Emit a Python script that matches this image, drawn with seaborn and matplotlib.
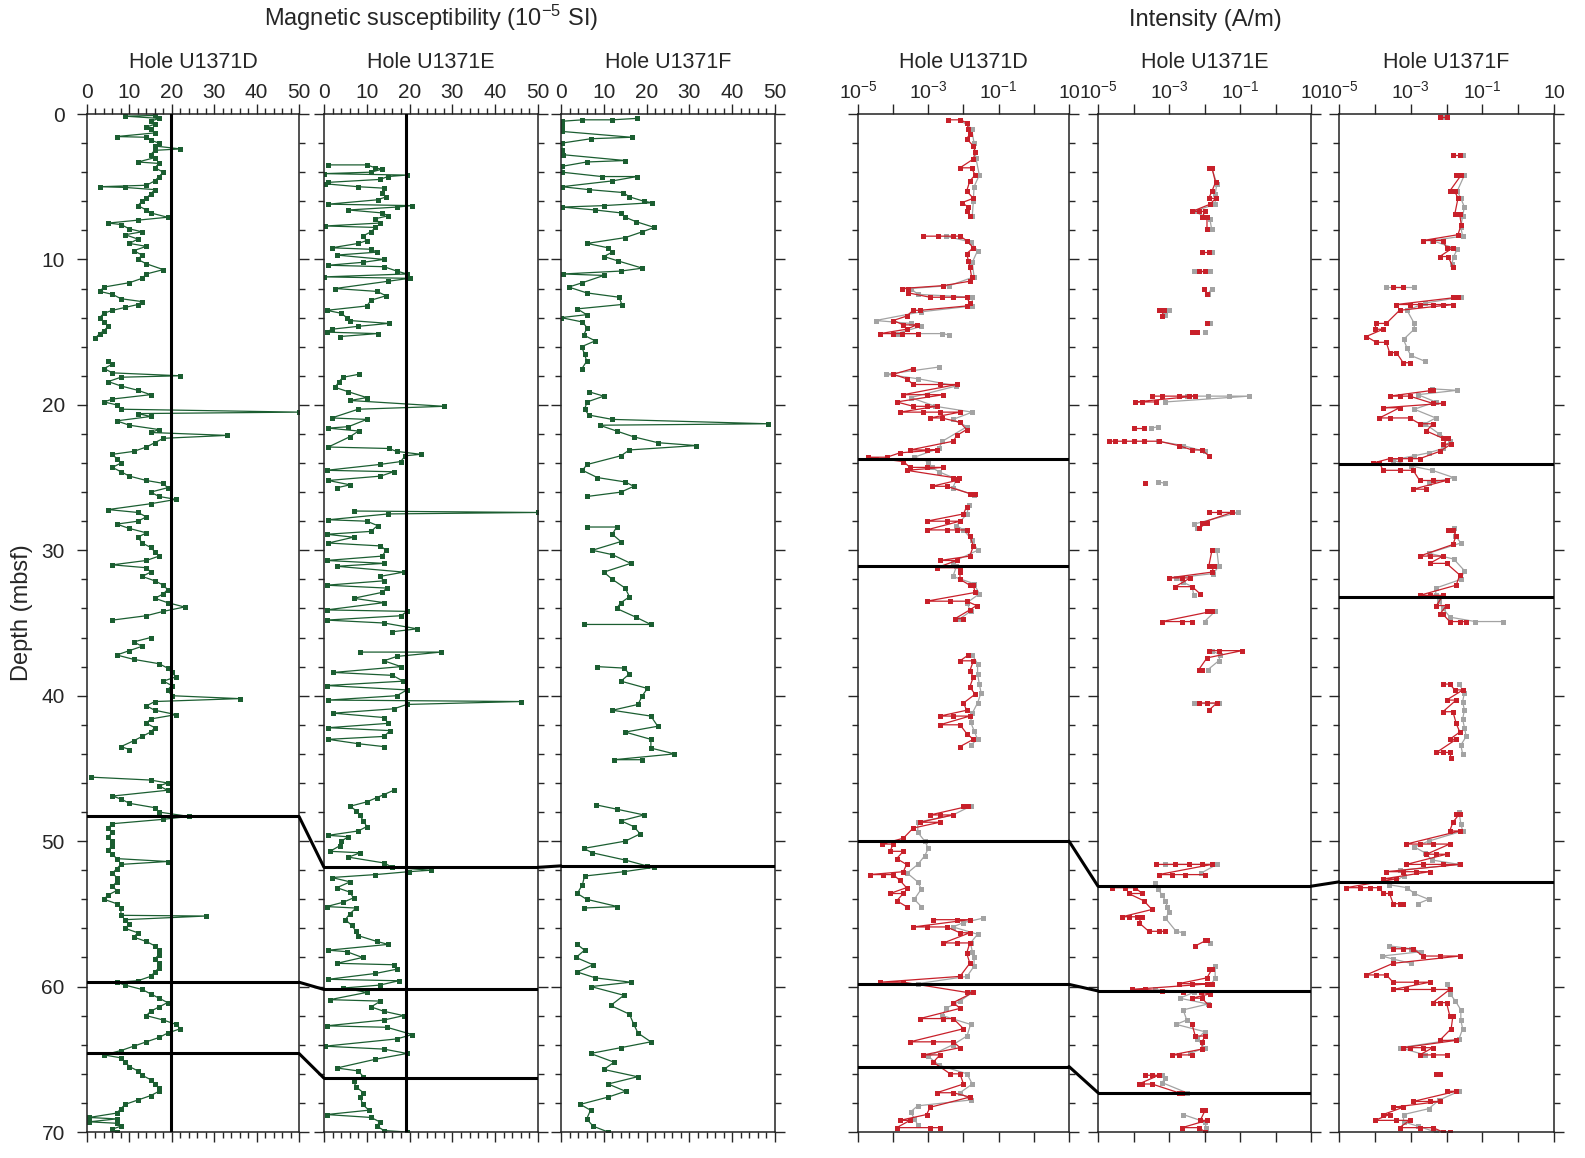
import numpy as np
import pandas as pd
import matplotlib
matplotlib.use("Agg")
import matplotlib.pyplot as plt
import matplotlib.transforms as mtransforms
import seaborn as sns
from matplotlib.patches import ConnectionPatch
from matplotlib.ticker import MultipleLocator, FixedLocator, LogLocator, NullFormatter

# ---------------------------------------------------------------- data
# magnetic susceptibility (1e-5 SI), one list of (depth mbsf, value) per core section
ms_d = [
    [(0.1, 16), (0.15, 9), (0.3, 17), (0.5, 15), (0.7, 16), (0.9, 14), (1.0, 15), (1.3, 16), (1.55, 7), (1.6, 14),
     (1.8, 15), (2.0, 17), (2.2, 16), (2.4, 22), (2.5, 16), (2.8, 15), (3.0, 16), (3.3, 12), (3.4, 17), (3.7, 16),
     (4.0, 18), (4.3, 17), (4.6, 16), (4.9, 14), (5.0, 3), (5.05, 9), (5.2, 16), (5.5, 15), (5.8, 14), (6.0, 13),
     (6.3, 12), (6.6, 14), (6.8, 15), (7.1, 19), (7.3, 12), (7.5, 5), (7.6, 8), (7.9, 10), (8.1, 13), (8.3, 9),
     (8.6, 12), (8.9, 10), (9.1, 14), (9.4, 11), (9.7, 13), (10.0, 12), (10.3, 14), (10.7, 18), (11.0, 14),
     (11.3, 13), (11.6, 10), (11.9, 4), (12.2, 3), (12.4, 6), (12.7, 8), (12.9, 13), (13.1, 12), (13.3, 9),
     (13.5, 6), (13.7, 4), (14.0, 3), (14.3, 4), (14.6, 5), (14.9, 4), (15.1, 3), (15.4, 2)],
    [(17.0, 5), (17.2, 6), (17.5, 4), (17.8, 6), (18.0, 22), (18.1, 8), (18.4, 5), (18.7, 8), (19.0, 12),
     (19.3, 15), (19.6, 6), (19.8, 4), (20.0, 7), (20.3, 8), (20.5, 50), (20.6, 12), (20.8, 15), (21.1, 7),
     (21.4, 10), (21.7, 17), (21.9, 15), (22.1, 33), (22.3, 18), (22.6, 16), (22.9, 14), (23.2, 11), (23.4, 6),
     (23.7, 7), (24.0, 8), (24.3, 6), (24.6, 8), (24.9, 10), (25.2, 14), (25.4, 18), (25.7, 19), (26.0, 15),
     (26.3, 17), (26.5, 21), (26.8, 15), (27.2, 5), (27.4, 12), (27.7, 14), (28.0, 12), (28.2, 7), (28.5, 10),
     (28.8, 14), (29.1, 12), (29.5, 13), (29.8, 15), (30.1, 16), (30.4, 17), (30.7, 14), (31.0, 6), (31.2, 14),
     (31.5, 15), (31.8, 13), (32.1, 16), (32.4, 18), (32.7, 19), (33.0, 18), (33.3, 16), (33.6, 19), (33.9, 23),
     (34.2, 18), (34.5, 14), (34.8, 6)],
    [(36.0, 15), (36.3, 11), (36.6, 13), (36.9, 10), (37.2, 7), (37.5, 11), (37.8, 17), (38.1, 19), (38.4, 20),
     (38.7, 21), (39.0, 18), (39.3, 20), (39.6, 19), (40.0, 20), (40.2, 36), (40.4, 16), (40.7, 14), (41.0, 16),
     (41.3, 21), (41.6, 15), (41.9, 14), (42.2, 16), (42.5, 15), (42.8, 13), (43.1, 11), (43.5, 8), (43.7, 10)],
    [(45.6, 1), (45.8, 15), (46.0, 19), (46.2, 17), (46.5, 19), (46.9, 6), (47.1, 8), (47.4, 10), (47.7, 16),
     (48.0, 17), (48.3, 24), (48.5, 18), (48.8, 6), (49.1, 5), (49.4, 6), (49.7, 5), (50.0, 6), (50.3, 6),
     (50.6, 5), (50.9, 6), (51.2, 7), (51.4, 19), (51.6, 8), (51.9, 7), (52.2, 6), (52.5, 7), (52.8, 7),
     (53.1, 6), (53.4, 7), (53.7, 5), (54.0, 4), (54.3, 7), (54.6, 8), (55.1, 8), (55.15, 28), (55.4, 9),
     (55.7, 10), (56.0, 9), (56.3, 12), (56.6, 11), (56.9, 14), (57.2, 16), (57.5, 17), (57.8, 17), (58.1, 16),
     (58.4, 17), (58.7, 17), (59.0, 16), (59.3, 15), (59.6, 12), (59.7, 7), (59.9, 9), (60.2, 13), (60.5, 15),
     (60.8, 17), (61.1, 19), (61.4, 17), (61.7, 15), (62.0, 14), (62.3, 18), (62.6, 21), (62.9, 22), (63.2, 19),
     (63.5, 17), (63.8, 14), (64.1, 11), (64.4, 8), (64.7, 4), (64.9, 8), (65.2, 9), (65.5, 10), (65.8, 12),
     (66.1, 13), (66.4, 15), (66.7, 16), (67.0, 17), (67.2, 17), (67.5, 15), (67.8, 12), (68.1, 9), (68.4, 8),
     (68.7, 7), (69.0, 0.5), (69.1, 7), (69.3, 0.5), (69.4, 7), (69.6, 8), (69.8, 6), (70.0, 7)],
]

ms_e = [
    [(3.5, 1), (3.5, 10), (3.7, 12), (3.8, 13.5), (4.0, 11), (4.1, 0), (4.2, 19.4), (4.3, 15), (4.5, 13), (4.7, 1),
     (4.8, 0.3), (5.0, 8), (5.1, 14), (5.4, 13.6), (5.7, 14.5), (5.9, 12.5), (6.2, 1), (6.3, 20.6), (6.4, 17),
     (6.6, 5.7), (6.8, 13.5), (7.0, 15), (7.2, 12), (7.5, 13), (7.7, 0.3), (7.8, 12), (8.1, 11), (8.4, 9),
     (8.7, 10), (8.9, 8), (9.2, 1.8), (9.3, 11), (9.5, 12.4), (9.7, 3), (10.0, 14), (10.2, 9), (10.4, 1),
     (10.5, 14), (10.8, 17), (11.0, 19.4), (11.2, 0), (11.3, 20), (11.5, 15), (12.0, 2.6), (12.2, 12.4),
     (12.5, 14.5), (12.8, 11), (13.2, 10), (13.5, 0.6), (13.7, 4), (14.0, 5.3), (14.2, 6), (14.4, 15.1),
     (14.6, 8), (14.8, 1.8), (15.0, 0.6), (15.1, 12.5), (15.3, 3.8)],
    [(17.9, 8.1), (18.1, 4.5), (18.4, 3.5), (18.8, 2.6), (19.1, 5.7), (19.5, 10), (19.7, 6.1), (20.1, 28.1),
     (20.3, 8), (20.9, 1.8), (21.0, 10), (21.5, 5.7), (21.6, 1), (21.8, 8.1), (22.2, 6), (22.9, 1), (23.0, 15.1),
     (23.2, 17), (23.4, 22.6), (23.5, 19), (23.9, 17.9), (24.1, 13), (24.5, 0.6), (24.6, 16.3), (24.9, 13.2),
     (25.2, 1), (25.5, 6.1), (25.7, 3)],
    [(27.3, 6.9), (27.4, 50), (27.5, 15), (27.9, 1), (28.0, 10), (28.3, 12.5), (28.7, 11), (28.9, 0.6),
     (29.1, 6.9), (29.5, 1), (29.7, 13.2), (30.0, 14.5), (30.4, 13.6), (30.7, 0.6), (30.9, 14), (31.1, 3),
     (31.5, 18.6), (31.8, 13), (32.1, 14), (32.4, 0.6), (32.6, 14.7), (32.9, 13.5), (33.3, 6.9), (33.6, 14),
     (34.1, 0.6), (34.2, 19.4), (34.5, 18), (34.8, 0.6), (35.0, 14), (35.4, 21.8), (35.6, 16)],
    [(37.0, 8.5), (37.0, 27.3), (37.3, 17), (37.6, 14), (38.0, 18), (38.4, 2.2), (38.6, 16), (39.0, 18.5),
     (39.3, 0.6), (39.6, 19.4), (40.0, 17), (40.3, 1), (40.4, 46.1), (40.6, 19.4), (40.9, 16.3), (41.2, 2.2),
     (41.5, 14), (41.9, 15), (42.2, 1), (42.4, 15.5), (42.8, 14), (43.0, 1), (43.3, 8), (43.5, 14)],
    [(46.5, 16.3), (46.8, 14), (47.0, 12.4), (47.3, 10), (47.6, 6.1), (47.9, 7.5), (48.2, 8.3), (48.6, 9.2),
     (49.0, 10), (49.3, 8), (49.6, 1), (49.7, 5.7), (50.0, 4), (50.3, 3.8), (50.7, 1.4), (50.8, 8.5), (51.1, 5.7),
     (51.5, 14), (51.8, 16), (52.0, 24.9), (52.1, 19.8), (52.3, 12), (52.5, 1.8), (52.8, 6.1), (53.2, 3),
     (53.5, 6), (53.9, 6.9), (54.2, 4.5), (54.5, 0.6), (54.6, 7.5), (55.0, 6), (55.4, 5), (55.8, 6.5),
     (56.2, 7.5), (56.5, 8), (56.9, 12.4), (57.1, 15), (57.5, 1), (57.6, 5.3), (58.0, 9), (58.4, 3),
     (58.5, 16.3), (58.8, 17.1), (59.1, 12), (59.5, 1), (59.6, 17.5), (59.9, 13), (60.1, 4.5), (60.4, 10),
     (60.9, 1.4), (61.0, 13.2), (61.4, 11), (61.7, 14), (62.0, 18.6), (62.3, 14), (62.7, 0.6), (62.8, 14.7),
     (63.3, 20.6), (63.6, 17), (64.1, 0.2), (64.3, 14), (64.6, 19.4), (65.0, 12), (65.6, 3), (65.8, 8),
     (66.2, 9.2), (66.5, 6.9), (66.9, 7.5), (67.3, 9.2), (67.6, 8.5), (68.1, 9), (68.5, 10.5), (68.8, 0.6),
     (69.0, 11), (69.3, 13), (69.6, 12.4), (69.9, 14), (70.0, 19.4)],
]

ms_f = [
    [(0.3, 17.8), (0.4, 12), (0.4, 5), (0.5, 0.2), (0.8, 0.2), (1.2, 0.3), (1.6, 16.5), (1.7, 7), (2.0, 0.2),
     (2.5, 0.3), (2.8, 0.5), (3.2, 15), (3.3, 6), (3.6, 0.2), (4.0, 0.2), (4.3, 9.5), (4.3, 17.8), (4.6, 12),
     (5.0, 0.2), (5.2, 6.5), (5.4, 14.5), (5.7, 16), (6.0, 19.4), (6.1, 21.3), (6.3, 10), (6.4, 0.2), (6.6, 8),
     (6.8, 14), (7.1, 15), (7.4, 17.5), (7.8, 21.8), (8.1, 19), (8.5, 15), (8.9, 6.1), (9.2, 11), (9.5, 12),
     (9.8, 10), (10.1, 13.3), (10.6, 19), (10.8, 14), (11.0, 0.5), (11.1, 10), (11.6, 5), (11.9, 1.8), (12.3, 6),
     (12.6, 13.6), (13.1, 14.2), (13.4, 3.8), (13.8, 6), (14.0, 0), (14.3, 5), (14.7, 6.1), (15.2, 5.3),
     (15.6, 8), (16.0, 4.8), (16.5, 5.5), (17.0, 6), (17.5, 4.9)],
    [(19.1, 6.5), (19.4, 10), (19.8, 6.1), (20.3, 5.5), (20.7, 6.5), (21.0, 12), (21.3, 48.4), (21.4, 9),
     (21.8, 13), (22.2, 17), (22.6, 22.6), (22.8, 31.6), (23.1, 16), (23.5, 14), (24.1, 6.1), (24.5, 5),
     (25.0, 8.5), (25.3, 15), (25.6, 17), (26.0, 14), (26.3, 6.1)],
    [(28.4, 6.1), (28.4, 13), (28.9, 12), (29.4, 14), (30.0, 7.3), (30.3, 12), (30.9, 16.3), (31.5, 10),
     (32.0, 12), (32.6, 15), (33.2, 16), (33.6, 14), (34.0, 13), (34.6, 17.5), (35.1, 21), (35.1, 5.3)],
    [(38.0, 8.5), (38.1, 14.7), (38.5, 16), (39.0, 14), (39.5, 20.2), (40.0, 19), (40.6, 18), (41.0, 12),
     (41.4, 21), (42.1, 22.6), (42.5, 15), (43.0, 21), (43.6, 21), (44.0, 26.5), (44.4, 12.4), (44.4, 19)],
    [(47.5, 8.1), (47.8, 13), (48.2, 19.4), (48.6, 14), (49.0, 17), (49.5, 18.5), (50.0, 15), (50.5, 5.3),
     (50.8, 7.3), (51.3, 15), (51.7, 20), (51.8, 21.8), (52.1, 14.7), (52.4, 5.5), (53.0, 5), (53.6, 3.8),
     (54.0, 6), (54.5, 13.2), (54.6, 5.3)],
    [(57.1, 3.8), (57.5, 5.5), (58.0, 3.5), (58.5, 7.5), (59.0, 3.8), (59.4, 8), (59.7, 16.3), (60.0, 7),
     (60.6, 14.7), (61.3, 11.6), (61.9, 16), (62.6, 17), (63.2, 18), (63.8, 21), (64.2, 14), (64.6, 6.9),
     (65.2, 12.4), (65.7, 10), (66.2, 17.9), (66.7, 11), (67.2, 15.1), (67.6, 11), (68.1, 4.5), (68.5, 6.9),
     (69.1, 6), (69.6, 7.5), (70.0, 11)],
]

# remanence intensity, stored as log10(A/m); red = after demag step, gray = NRM
int_d_red = [
    [(0.4, -2.43), (0.4, -2.10), (0.6, -1.91), (1.0, -1.86), (1.4, -1.82), (1.7, -1.91), (2.2, -1.72), (2.6, -1.67),
     (3.1, -1.72), (3.7, -2.10), (3.7, -1.77), (4.2, -1.67), (4.6, -1.82), (5.3, -1.91), (5.8, -1.72), (6.1, -2.05),
     (6.4, -1.86), (6.7, -1.91), (7.0, -1.82)],
    [(8.4, -3.14), (8.4, -2.72), (8.4, -2.29), (8.4, -2.10), (8.7, -1.91), (9.2, -1.72), (9.6, -1.91), (10.1, -1.86),
     (10.5, -1.82), (11.2, -1.77), (11.5, -1.82), (11.8, -2.57), (12.0, -3.76), (12.0, -3.57), (12.3, -3.57),
     (12.6, -2.95), (12.6, -2.62), (12.6, -2.29), (12.6, -1.91), (13.0, -1.82), (13.2, -1.91), (13.5, -3.24),
     (13.5, -3.43), (13.9, -3.62), (14.2, -4.0), (14.5, -3.71), (14.5, -3.33), (14.8, -3.62), (15.1, -4.37),
     (15.1, -4.0), (15.1, -3.76), (15.1, -3.28)],
    [(17.5, -3.43), (17.9, -4.0), (18.2, -3.62), (18.6, -3.43), (18.6, -2.67), (18.6, -2.19), (19.3, -3.71),
     (19.3, -3.05), (19.3, -2.57), (19.8, -3.90), (20.1, -3.43), (20.1, -3.05), (20.1, -2.76), (20.5, -3.81),
     (20.5, -3.14), (20.5, -2.67), (20.5, -2.10), (20.9, -2.95), (20.9, -2.62), (21.2, -2.10), (21.7, -1.91),
     (22.1, -2.19), (22.5, -2.29), (23.1, -3.52), (23.1, -3.05), (23.1, -2.76), (23.3, -3.81), (23.6, -4.18),
     (23.6, -4.71), (23.9, -3.71), (24.3, -3.52), (24.3, -3.05), (24.3, -2.57), (24.5, -3.62), (25.0, -2.29),
     (25.0, -2.14), (25.2, -2.19), (25.6, -2.90), (25.6, -2.48), (26.1, -1.82), (26.1, -1.67)],
    [(27.0, -1.91), (27.5, -2.0), (28.0, -3.05), (28.0, -2.48), (28.0, -2.10), (28.6, -3.05), (28.6, -2.48),
     (28.6, -2.19), (28.6, -1.91), (29.0, -1.82), (29.7, -1.72), (30.4, -1.82), (30.7, -2.67), (30.7, -2.19),
     (31.2, -2.76), (31.2, -2.10), (31.5, -2.10), (32.0, -2.10), (32.4, -1.82), (32.4, -1.72), (32.9, -1.67),
     (33.5, -3.05), (33.5, -2.38), (33.5, -1.91), (33.8, -1.63), (34.1, -1.82), (34.7, -2.24), (34.7, -2.0)],
    [(37.2, -1.86), (37.6, -2.10), (37.6, -1.72), (38.3, -1.82), (38.7, -1.72), (39.4, -1.82), (39.9, -1.67),
     (40.5, -2.0), (41.0, -1.91), (41.4, -2.67), (41.4, -2.29), (41.4, -1.82), (42.0, -2.67), (42.0, -2.10),
     (42.6, -1.91), (43.0, -1.72), (43.5, -2.10)],
    [(47.6, -2.0), (47.6, -1.86), (48.2, -2.95), (48.2, -2.67), (48.2, -2.29), (48.7, -3.24), (48.7, -2.67),
     (49.1, -3.43), (49.8, -3.71), (50.2, -4.32), (50.2, -4.0), (50.7, -4.09), (50.7, -3.71), (51.2, -3.90),
     (51.6, -3.62), (52.1, -3.71), (52.3, -4.66), (52.3, -4.28), (52.3, -4.0), (52.7, -3.81), (53.2, -3.62),
     (53.6, -4.09), (53.6, -3.71), (54.1, -3.90), (54.5, -3.62)],
    [(55.4, -2.86), (55.4, -2.19), (55.4, -1.82), (55.9, -3.43), (55.9, -3.05), (55.9, -2.48), (56.3, -2.10),
     (56.3, -1.82), (57.0, -2.57), (57.0, -2.19), (57.0, -1.82), (57.7, -1.91), (58.4, -1.82), (59.3, -2.10),
     (59.7, -4.37), (59.7, -3.71), (60.4, -1.91), (60.4, -1.72), (61.1, -2.29), (61.5, -2.10), (62.2, -3.24),
     (62.2, -2.57), (62.2, -2.29), (62.9, -2.0), (63.8, -3.52), (63.8, -2.86), (63.8, -2.29), (64.2, -2.10),
     (64.7, -3.14), (64.7, -2.67), (65.2, -2.86), (66.0, -2.38), (66.0, -2.10), (66.7, -2.0), (67.3, -2.76),
     (67.3, -2.29), (67.6, -1.82), (68.3, -2.95), (68.8, -3.05), (69.2, -3.81), (69.2, -3.52), (69.7, -3.90),
     (69.7, -2.95), (69.7, -2.67)],
]

int_d_gray = [
    [(0.4, -2.1), (1.0, -1.77), (2.0, -1.7), (3.0, -1.65), (4.2, -1.55), (5.0, -1.7), (6.0, -1.72), (7.0, -1.75)],
    [(8.4, -2.5), (8.8, -1.8), (9.4, -1.6), (10.2, -1.75), (11.2, -1.7), (11.8, -2.4), (12.0, -3.5), (12.4, -3.3),
     (12.6, -1.75), (13.2, -1.75), (13.6, -3.2), (14.2, -4.5), (14.4, -3.5), (14.6, -3.2), (15.1, -3.9),
     (15.1, -2.6), (15.2, -2.4)],
    [(17.4, -2.7), (17.9, -4.2), (18.2, -3.3), (18.7, -2.2), (19.5, -3.5), (20.1, -2.8), (20.5, -1.75),
     (21.0, -2.3), (21.5, -1.9), (22.5, -2.6), (23.0, -2.7), (23.6, -3.4), (23.9, -3.0), (24.3, -2.9),
     (24.6, -2.7), (25.1, -2.2), (25.7, -2.3), (26.2, -1.7)],
    [(26.9, -1.85), (27.5, -1.9), (28.3, -2.2), (28.6, -2.0), (29.3, -1.75), (30.0, -1.6), (30.8, -2.3),
     (31.1, -2.2), (31.8, -2.3), (32.3, -1.7), (33.0, -1.55), (33.6, -1.9), (34.2, -1.8), (34.7, -2.1)],
    [(37.2, -1.75), (37.8, -1.6), (38.5, -1.6), (39.2, -1.55), (39.8, -1.5), (40.5, -1.6), (41.2, -1.75),
     (41.8, -1.8), (42.4, -1.7), (43.0, -1.6), (43.4, -1.8)],
    [(47.6, -1.8), (48.2, -2.3), (48.7, -3.3), (49.4, -3.3), (50.0, -3.1), (50.5, -3.0), (51.0, -3.1),
     (51.6, -3.3), (52.2, -3.6), (52.8, -3.3), (53.3, -3.2), (54.0, -3.4), (54.5, -3.2)],
    [(55.3, -1.45), (55.6, -2.0), (55.9, -2.3), (56.4, -1.6), (57.0, -1.8), (57.6, -1.75), (58.0, -1.7),
     (58.6, -1.7), (59.3, -1.9), (59.8, -3.3)],
    [(60.4, -1.75), (61.0, -2.1), (61.5, -2.5), (62.0, -2.6), (62.6, -1.8), (63.4, -1.9), (64.0, -2.3),
     (64.8, -3.0), (65.4, -2.7), (66.0, -1.9), (66.7, -1.75), (67.3, -2.1), (67.8, -1.8), (68.2, -3.3),
     (68.6, -3.5), (69.1, -3.4), (69.5, -3.3)],
]

int_e_red = [
    [(3.7, -1.88), (3.7, -1.79), (4.7, -1.69), (5.3, -1.79), (5.8, -1.88), (5.8, -1.69), (6.2, -1.84), (6.7, -2.35),
     (6.7, -2.16), (6.7, -1.98), (7.1, -2.07), (7.1, -1.93), (7.9, -1.93)],
    [(9.5, -2.07), (9.5, -1.88)],
    [(10.8, -2.16), (10.8, -1.98)],
    [(12.0, -2.02), (12.4, -1.93)],
    [(13.5, -3.29), (13.5, -3.15), (13.9, -3.20)],
    [(14.4, -1.93)],
    [(15.0, -2.35), (15.0, -2.21)],
    [(19.4, -3.48), (19.4, -3.20), (19.4, -2.73), (19.4, -2.45), (19.4, -2.26), (19.8, -3.95), (19.8, -3.76),
     (19.8, -3.38)],
    [(21.6, -4.0), (21.6, -3.71)],
    [(22.5, -4.70), (22.5, -4.51), (22.5, -4.28), (22.5, -4.0), (22.5, -3.71), (22.5, -3.29), (22.8, -2.73),
     (23.1, -2.35), (23.1, -2.07), (23.5, -1.88)],
    [(25.4, -3.67)],
    [(27.4, -1.88), (27.4, -1.60), (27.4, -1.23), (28.1, -2.07), (28.1, -1.93), (28.5, -2.16)],
    [(30.0, -1.79), (31.1, -1.88), (31.1, -1.74), (31.5, -1.79), (31.9, -3.01), (31.9, -2.63), (31.9, -2.40),
     (32.5, -2.82), (32.5, -2.35), (33.0, -2.12)],
    [(34.2, -1.93), (34.2, -1.79), (34.9, -3.20), (34.9, -2.63), (34.9, -2.35)],
    [(36.9, -1.88), (36.9, -1.60), (36.9, -0.94), (37.4, -1.93), (38.2, -2.16), (38.2, -2.07)],
    [(40.5, -2.16), (40.5, -1.93), (40.5, -1.65), (41.0, -1.88)],
    [(51.6, -3.38), (51.6, -2.82), (51.6, -2.45), (51.6, -2.07), (51.6, -1.79), (52.3, -3.29), (52.3, -2.92),
     (52.3, -2.54), (52.3, -1.98)],
    [(53.2, -4.61), (53.2, -4.23), (53.2, -3.95), (53.6, -3.76), (53.6, -4.14), (54.1, -3.71), (54.7, -3.48),
     (55.2, -4.32), (55.2, -4.14), (55.2, -3.90), (55.2, -3.76), (55.6, -3.85), (56.2, -3.57), (56.2, -3.29),
     (56.2, -3.10)],
    [(56.8, -1.98), (56.8, -1.93), (57.2, -2.26)],
    [(58.8, -1.88), (58.8, -1.79), (59.4, -1.93), (59.8, -2.73), (59.8, -2.35), (59.8, -1.93), (59.8, -1.79),
     (60.2, -4.05), (60.2, -3.67), (60.3, -3.20), (60.4, -2.60), (60.4, -2.10), (60.5, -1.85), (60.8, -2.35),
     (60.8, -2.07), (61.3, -1.88)],
    [(62.6, -2.35), (63.4, -2.26), (63.4, -1.98), (63.8, -2.07), (64.3, -2.07), (64.7, -2.92), (64.7, -2.73),
     (64.7, -2.35)],
    [(66.1, -3.67), (66.1, -3.48), (66.1, -3.29), (66.7, -3.85), (66.7, -3.76), (66.7, -3.48), (67.3, -2.73),
     (67.3, -2.63)],
    [(68.5, -2.07), (68.5, -1.98), (69.2, -2.12), (69.2, -1.93), (69.7, -2.63), (69.7, -2.16), (70.0, -1.98)],
]

int_e_gray = [
    [(3.7, -1.8), (4.8, -1.65), (5.5, -1.7), (6.2, -1.7), (6.7, -2.3), (7.2, -1.85), (7.9, -1.8)],
    [(9.5, -1.8)],
    [(10.8, -2.3), (10.8, -1.85)],
    [(12.0, -1.8), (12.4, -1.9)],
    [(13.5, -3.0), (13.8, -3.1)],
    [(14.4, -1.85)],
    [(15.0, -2.0)],
    [(19.4, -2.5), (19.4, -1.9), (19.4, -1.3), (19.4, -0.75), (19.8, -3.1)],
    [(21.5, -3.3), (21.6, -3.5)],
    [(22.5, -3.3), (22.8, -2.6), (23.2, -2.0)],
    [(25.3, -3.3), (25.4, -3.1)],
    [(27.4, -1.6), (27.4, -1.05), (28.2, -2.3), (28.5, -2.2)],
    [(30.0, -1.65), (31.1, -1.6), (31.6, -1.75), (31.9, -2.8), (32.2, -2.6), (32.5, -2.35), (33.1, -2.3)],
    [(34.2, -1.7), (34.9, -2.0)],
    [(36.9, -1.8), (37.2, -1.55), (37.6, -1.6), (38.2, -1.9)],
    [(40.5, -2.3), (40.5, -1.6)],
    [(51.6, -3.1), (51.6, -1.65), (52.2, -2.1)],
    [(52.9, -3.4), (53.3, -3.3), (53.7, -3.2), (54.1, -3.1), (54.5, -3.05), (54.9, -3.0), (55.3, -3.1),
     (56.2, -2.8), (56.3, -2.6)],
    [(57.0, -1.85)],
    [(58.6, -1.7), (59.4, -1.7), (59.8, -1.8)],
    [(60.2, -3.4), (60.4, -2.3), (60.8, -2.7), (61.2, -1.9), (61.6, -2.6), (62.3, -2.5), (62.6, -2.8),
     (63.1, -2.0), (63.6, -2.2), (64.2, -2.0), (64.6, -2.4)],
    [(66.1, -3.2), (66.3, -3.1), (66.6, -3.2), (67.3, -2.5)],
    [(68.8, -2.6), (69.3, -2.0), (69.7, -1.95)],
]

int_f_red = [
    [(0.2, -2.19), (0.2, -2.0)],
    [(2.8, -1.82), (2.8, -1.63)],
    [(4.2, -1.73), (4.2, -1.59), (5.3, -1.91), (5.3, -1.77), (5.8, -1.68), (6.9, -1.77), (6.9, -1.63), (7.6, -1.59),
     (8.3, -1.68), (8.7, -2.66), (8.7, -2.38), (8.7, -2.10), (9.2, -2.0), (9.2, -1.82), (9.8, -2.19), (9.8, -1.96),
     (10.5, -1.82)],
    [(11.9, -3.49), (11.9, -3.21)],
    [(12.6, -1.82), (12.6, -1.68), (13.1, -3.40), (13.1, -3.03), (13.1, -2.75), (13.1, -2.38), (13.1, -2.10),
     (13.1, -1.82), (13.5, -3.31), (14.4, -3.68), (14.4, -3.96), (14.8, -4.0), (14.8, -3.77), (15.3, -4.24),
     (15.7, -3.96), (15.7, -3.68), (16.4, -3.59), (16.4, -3.40), (17.1, -3.21), (17.1, -3.03)],
    [(19.0, -2.47), (19.0, -2.38), (19.4, -3.59), (19.4, -3.31), (19.4, -3.03), (19.9, -2.38), (19.9, -2.10),
     (20.2, -3.77), (20.2, -3.31), (20.9, -3.87), (20.9, -3.59), (20.9, -3.03), (21.3, -2.75), (21.3, -2.38),
     (21.8, -2.56), (22.3, -2.10), (22.3, -1.96), (22.7, -2.10), (22.7, -1.87), (23.2, -2.19), (23.7, -2.75),
     (23.7, -3.03), (23.7, -3.31), (23.7, -3.59), (24.0, -4.05), (24.0, -3.87), (24.5, -3.77), (24.5, -3.31),
     (24.5, -2.93), (25.2, -2.75), (25.2, -2.38), (25.2, -2.0), (25.8, -2.93), (25.8, -2.56)],
    [(28.6, -1.96), (28.6, -1.82), (29.0, -1.73), (29.6, -1.82), (30.4, -2.75), (30.4, -2.47), (30.4, -2.10),
     (30.9, -2.47), (30.9, -2.0), (31.7, -1.63), (32.4, -1.73), (33.1, -2.75), (33.1, -2.47), (33.1, -2.10),
     (33.8, -2.28), (33.8, -2.0), (34.4, -2.19), (34.4, -2.10), (34.9, -1.91), (34.9, -1.63), (34.9, -1.45)],
    [(39.2, -2.10), (39.2, -1.91), (39.6, -1.77), (39.6, -1.54), (40.3, -2.0), (40.3, -1.73), (41.1, -2.10),
     (41.1, -1.82), (41.9, -1.73), (42.5, -1.63), (43.0, -1.91), (43.0, -1.73), (43.9, -2.28), (43.9, -2.10),
     (43.9, -1.91), (44.3, -1.87)],
    [(48.1, -1.73), (48.1, -1.63), (48.7, -1.82), (49.3, -1.91), (49.3, -1.63), (50.2, -3.12), (50.2, -2.75),
     (50.2, -2.38), (50.2, -1.91), (50.9, -2.56), (50.9, -2.28), (50.9, -2.0), (51.6, -3.12), (51.6, -2.66),
     (51.6, -2.10), (51.6, -1.63), (52.1, -3.68), (52.1, -3.21), (52.1, -2.84), (52.1, -2.47), (52.6, -3.77),
     (52.6, -3.40), (53.2, -4.80), (53.2, -4.42), (53.2, -4.14), (53.2, -3.87), (53.6, -3.77), (53.6, -3.59),
     (54.3, -3.49), (54.3, -3.31), (54.3, -3.21)],
    [(57.4, -3.49), (57.4, -3.21), (57.4, -2.93), (57.9, -2.66), (57.9, -2.19), (57.9, -1.63), (58.4, -3.49),
     (59.2, -4.24), (59.2, -3.96), (59.2, -3.68), (59.7, -3.49), (59.7, -2.84), (59.7, -2.47), (60.2, -3.49),
     (60.2, -3.12), (60.2, -2.38), (60.2, -1.91), (61.1, -2.38), (61.1, -2.19), (61.1, -2.0), (62.0, -1.91),
     (62.0, -1.82), (62.9, -1.87), (63.7, -2.19), (63.7, -1.73), (64.2, -3.21), (64.2, -3.03), (64.2, -2.66),
     (64.2, -2.38), (64.7, -2.75), (64.7, -2.38), (64.7, -2.0)],
    [(66.0, -2.28), (66.0, -2.19)],
    [(67.2, -2.0), (67.2, -1.73), (67.9, -2.93), (67.9, -2.47), (67.9, -2.19), (68.3, -3.49), (68.3, -3.21),
     (68.8, -3.77), (68.8, -3.59), (69.2, -4.0), (69.2, -3.40), (69.2, -3.03), (69.7, -3.31), (69.7, -2.75),
     (69.7, -2.38), (70.0, -2.10), (70.0, -1.91)],
]

int_f_gray = [
    [(0.2, -2.05)],
    [(2.8, -1.55)],
    [(4.2, -1.5), (5.3, -1.7), (5.8, -1.6), (6.4, -1.5), (7.0, -1.55), (7.8, -1.6), (8.4, -1.55), (8.7, -2.4),
     (9.3, -1.7), (9.8, -1.8), (10.3, -1.85)],
    [(11.9, -3.7), (11.9, -2.9)],
    [(12.6, -1.6), (13.0, -2.6), (13.5, -3.1), (14.4, -2.9), (14.8, -2.9), (15.5, -3.2), (16.1, -3.1),
     (16.6, -3.0), (17.0, -2.6)],
    [(18.9, -2.4), (19.0, -1.7), (19.3, -2.8), (19.8, -2.3), (20.3, -2.9), (20.9, -2.3), (21.3, -2.6),
     (22.0, -2.2), (22.5, -1.9), (23.0, -2.1), (23.3, -2.5), (23.5, -2.9), (23.8, -3.5), (24.2, -3.0),
     (24.5, -2.4), (25.0, -1.8), (25.4, -2.5)],
    [(28.5, -1.8), (29.0, -1.75), (29.5, -1.6), (30.2, -2.5), (30.6, -1.8), (31.4, -1.5), (32.0, -1.6),
     (32.6, -2.3), (33.1, -2.3), (33.5, -2.2), (34.0, -2.1), (34.6, -1.9), (34.9, -1.2), (34.9, -0.42)],
    [(39.2, -1.65), (39.8, -1.5), (40.4, -1.55), (41.0, -1.5), (41.6, -1.55), (42.2, -1.5), (42.8, -1.45),
     (43.4, -1.6), (44.0, -1.55)],
    [(48.0, -1.65), (48.8, -1.6), (49.3, -1.55), (50.0, -2.5), (50.4, -2.9), (50.8, -2.6), (51.3, -2.4),
     (51.6, -1.65), (52.0, -3.3), (52.4, -3.2), (53.0, -3.6), (53.2, -3.1), (53.6, -2.9), (54.0, -2.5),
     (54.3, -2.8)],
    [(57.2, -3.6), (57.4, -3.0), (57.6, -2.7), (57.9, -3.8), (58.1, -3.5), (58.4, -3.0)],
    [(59.8, -2.0), (60.5, -1.9), (61.0, -1.75), (61.6, -1.6), (62.3, -1.6), (62.9, -1.55), (63.6, -1.65),
     (64.2, -3.3), (64.7, -2.6)],
    [(67.2, -1.65), (67.8, -2.2), (68.4, -2.5), (68.8, -3.2), (69.3, -3.2), (69.6, -2.8), (70.0, -2.3)],
]

hole_names = ["Hole U1371D", "Hole U1371E", "Hole U1371F"]

# tie (correlation) depths per panel and the links drawn between neighbouring panels
ms_ties = [[48.3, 59.7, 64.6], [51.8, 60.2, 66.3], [51.7]]
ms_links = [(0, 48.3, 1, 51.8), (0, 59.7, 1, 60.2), (0, 64.6, 1, 66.3), (1, 51.8, 2, 51.7)]
int_ties = [[23.7, 31.1, 50.0, 59.85, 65.5], [53.1, 60.3, 67.3], [24.1, 33.2, 52.8]]
int_links = [(0, 50.0, 1, 53.1), (0, 59.85, 1, 60.3), (0, 65.5, 1, 67.3), (1, 53.1, 2, 52.8)]
ms_ref_line = [19.8, 19.1, None]

GREEN = "#1b5e31"
RED = "#c8202a"
GRAY = "#a3a3a3"


def to_frame(segments, log=False):
    rows = []
    for i, seg in enumerate(segments):
        for d, v in seg:
            rows.append((i, d, 10 ** v if log else v))
    return pd.DataFrame(rows, columns=["seg", "depth", "value"])


def draw(ax, df, color, ms=3.6, lw=0.9):
    sns.lineplot(data=df, x="value", y="depth", units="seg", estimator=None, sort=False, ax=ax,
                 color=color, linewidth=lw, marker="s", markersize=ms,
                 markeredgecolor=color, markeredgewidth=0, legend=False)


def style_axis(ax, show_ylabels, xlabelsize=15):
    ax.set_ylim(70, 0)
    ax.yaxis.set_major_locator(MultipleLocator(10))
    ax.yaxis.set_minor_locator(MultipleLocator(2))
    ax.tick_params(axis="x", which="both", top=True, bottom=True, labeltop=True, labelbottom=False,
                   direction="out", width=1.0, labelsize=xlabelsize, pad=1.5)
    ax.tick_params(axis="y", which="both", left=True, right=True, labelleft=show_ylabels,
                   labelright=False, direction="out", width=1.0, labelsize=15, pad=9)
    ax.tick_params(which="major", length=7)
    ax.tick_params(which="minor", length=4)
    for sp in ax.spines.values():
        sp.set_visible(True)
        sp.set_linewidth(1.1)
        sp.set_color("#222222")
    ax.set_xlabel("")
    ax.set_ylabel("")


# ---------------------------------------------------------------- figure
sns.set_style("ticks")
plt.rcParams["font.family"] = ["Liberation Sans", "DejaVu Sans"]
plt.rcParams["mathtext.fontset"] = "custom"
plt.rcParams["mathtext.rm"] = "Liberation Sans"
plt.rcParams["mathtext.it"] = "Liberation Sans:italic"

fig = plt.figure(figsize=(15.85, 11.58), dpi=100)
W, H = 1585, 1158
top_px, bot_px = 114, 1132
lefts = [(87, 212), (324, 214), (561, 214), (858, 211), (1098, 213), (1339, 215)]
axes = [fig.add_axes([l / W, 1 - bot_px / H, w / W, (bot_px - top_px) / H]) for l, w in lefts]

ms_sets = [ms_d, ms_e, ms_f]
int_sets = [(int_d_gray, int_d_red), (int_e_gray, int_e_red), (int_f_gray, int_f_red)]

for i in range(3):
    ax = axes[i]
    draw(ax, to_frame(ms_sets[i]), GREEN)
    ax.set_xlim(0, 50)
    ax.xaxis.set_major_locator(MultipleLocator(10))
    ax.xaxis.set_minor_locator(MultipleLocator(2))
    style_axis(ax, i == 0)
    if ms_ref_line[i] is not None:
        ax.axvline(ms_ref_line[i], color="black", lw=2.2, zorder=4)
    for d in ms_ties[i]:
        ax.axhline(d, color="black", lw=2.2, zorder=5)

decades = [1e-5, 1e-4, 1e-3, 1e-2, 1e-1, 1, 10]
decade_labels = [r"$\mathregular{10^{-5}}$", "", r"$\mathregular{10^{-3}}$", "",
                 r"$\mathregular{10^{-1}}$", "", "10"]
for i in range(3):
    ax = axes[3 + i]
    ax.set_xscale("log")
    gray, red = int_sets[i]
    draw(ax, to_frame(gray, log=True), GRAY)
    draw(ax, to_frame(red, log=True), RED)
    ax.set_xlim(1e-5, 10)
    ax.xaxis.set_major_locator(FixedLocator(decades))
    ax.set_xticklabels(decade_labels)
    ax.xaxis.set_minor_locator(LogLocator(base=10, subs=np.arange(2, 10)))
    ax.xaxis.set_minor_formatter(NullFormatter())
    style_axis(ax, False, xlabelsize=14)
    for d in int_ties[i]:
        ax.axhline(d, color="black", lw=2.2, zorder=5)

for group, links in ((0, ms_links), (3, int_links)):
    for a, da, b, db in links:
        axa, axb = axes[group + a], axes[group + b]
        con = ConnectionPatch(xyA=(1, da), coordsA=axa.get_yaxis_transform(),
                              xyB=(0, db), coordsB=axb.get_yaxis_transform(),
                              color="black", lw=2.2)
        fig.add_artist(con)

for i, ax in enumerate(axes):
    tr = mtransforms.blended_transform_factory(ax.transAxes, fig.transFigure)
    ax.text(0.5, 1 - 63 / H, hole_names[i % 3], transform=tr, ha="center", va="center", fontsize=15.5)

fig.text(431 / W, 1 - 18 / H, r"Magnetic susceptibility (10$^{\mathregular{-5}}$ SI)",
         ha="center", va="center", fontsize=17)
fig.text(1205 / W, 1 - 20 / H, "Intensity (A/m)", ha="center", va="center", fontsize=17)
fig.text(22 / W, 1 - 613 / H, "Depth (mbsf)", rotation=90, ha="center", va="center", fontsize=17)

fig.savefig("out.png", dpi=100)
